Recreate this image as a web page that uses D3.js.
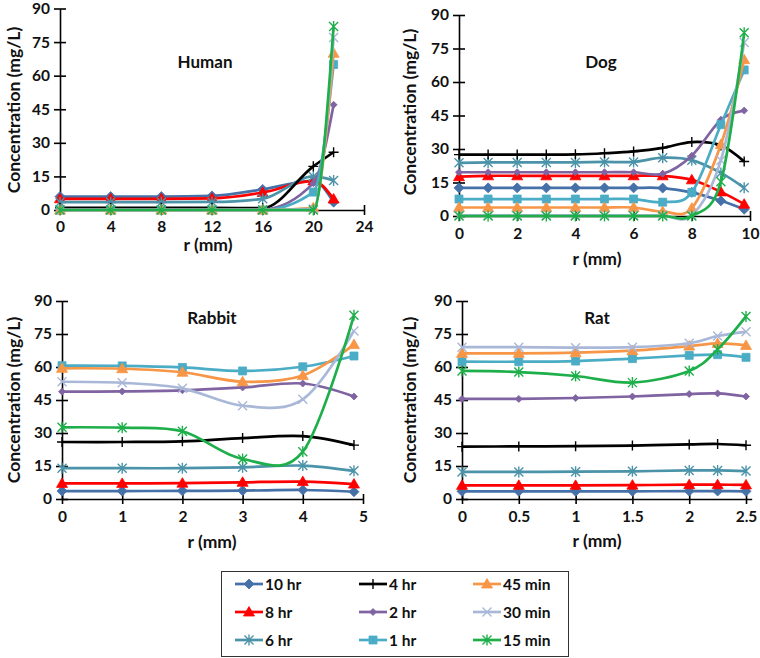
<!DOCTYPE html>
<html>
<head>
<meta charset="utf-8">
<script src="https://cdn.jsdelivr.net/npm/d3@7"></script>
<style>
  html, body { margin: 0; padding: 0; background: #ffffff; }
  svg text { font-family: Lato, "Open Sans", "DejaVu Sans", sans-serif; font-weight: bold; fill: #111; }
</style>
</head>
<body>
<svg id="chart" width="760" height="658"></svg>
<script>
// ---------- DATA ----------
const seriesNames = ["10 hr", "8 hr", "6 hr", "4 hr", "2 hr", "1 hr", "45 min", "30 min", "15 min"];
const seriesColors = ["#4571A8", "#FF0000", "#4B93A9", "#000000", "#8064A2", "#4BACC6", "#F79646", "#AAB8D8", "#1EAF4A"];
const seriesMarkers = ["diamond", "triangle", "star", "plus", "smallDiamond", "square", "triangle", "x", "star"];

const yTicks = [0, 15, 30, 45, 60, 75, 90];

// Human
const humanR = [0, 4, 8, 12, 16, 20, 21.6];
const humanTicks = [0, 4, 8, 12, 16, 20, 24];
const humanValues = [
  [6, 6, 6, 6.3, 9.2, 13, 3.5],      // 10 hr
  [5, 5, 5, 5.2, 7.8, 13, 4.9],      // 8 hr
  [3.5, 3.5, 3.5, 3.6, 5, 15, 13.2], // 6 hr
  [1, 1, 1, 1, 0.8, 19.5, 25.8],     // 4 hr
  [0.3, 0.3, 0.3, 0.3, 0.3, 12, 47], // 2 hr
  [0, 0, 0, 0, 0, 8, 65],            // 1 hr
  [0, 0, 0, 0, 0, 1, 70],            // 45 min
  [0, 0, 0, 0, 0, 0.5, 77],          // 30 min
  [0, 0, 0, 0, 0, 0, 82]             // 15 min
];

// Dog
const dogR = [0, 1, 2, 3, 4, 5, 6, 7, 8, 9, 9.8];
const dogTicks = [0, 2, 4, 6, 8, 10];
const dogValues = [
  [12.6, 12.6, 12.6, 12.6, 12.6, 12.6, 12.6, 12.5, 10.6, 6.8, 3],
  [17.6, 18, 18, 18, 18, 18, 18, 18, 16.2, 10.8, 5.3],
  [23.8, 24, 24, 24, 24, 24.2, 24.2, 26.1, 25, 19.3, 12.6],
  [27.5, 27.5, 27.5, 27.5, 27.6, 28.1, 28.9, 30.5, 33.1, 31.6, 24.4],
  [19.6, 19.6, 19.6, 19.6, 19.6, 19.6, 19.6, 18.9, 27, 43.1, 47.2],
  [7.6, 7.6, 7.6, 7.6, 7.6, 7.6, 7.6, 6.2, 10.6, 40.9, 65.4],
  [3.8, 3.8, 3.8, 3.8, 3.8, 3.8, 3.8, 2, 3.5, 32, 70],
  [0.3, 0.3, 0.3, 0.3, 0.3, 0.3, 0.3, 0.3, 0.3, 25, 77.7],
  [0, 0, 0, 0, 0, 0, 0, 0, 0, 15.3, 82]
];

// Rabbit
const rabbitR = [0, 1, 2, 3, 4, 4.85];
const rabbitTicks = [0, 1, 2, 3, 4, 5];
const rabbitValues = [
  [3.6, 3.6, 3.7, 3.8, 4.1, 3.3],
  [7.1, 7.1, 7.2, 7.6, 7.9, 6.8],
  [14, 14, 14, 14.4, 15.2, 12.8],
  [25.9, 25.9, 26.2, 27.7, 28.6, 24.5],
  [48.8, 48.9, 49.4, 50.7, 52.5, 46.6],
  [60.6, 60.5, 59.8, 58.2, 60.1, 65],
  [59.4, 59.2, 57.6, 53.3, 56.1, 70.2],
  [53.3, 52.8, 50.3, 42.4, 45.3, 76.4],
  [32.6, 32.4, 30.8, 18.2, 21.5, 83.5]
];

// Rat
const ratR = [0, 0.5, 1, 1.5, 2, 2.25, 2.5];
const ratTicks = [0, 0.5, 1, 1.5, 2, 2.5];
const ratValues = [
  [3.5, 3.5, 3.5, 3.5, 3.6, 3.6, 3.5],
  [6.2, 6.2, 6.2, 6.3, 6.5, 6.5, 6.4],
  [12.3, 12.3, 12.4, 12.6, 13, 13, 12.7],
  [23.8, 23.9, 24, 24.3, 24.8, 25, 24.4],
  [45.5, 45.5, 45.9, 46.6, 47.7, 48, 46.6],
  [62.4, 62.4, 62.7, 63.8, 65.3, 65.6, 64.4],
  [66.2, 66.2, 66.5, 67.4, 69.5, 70.7, 69.8],
  [69, 69, 68.8, 69, 70.8, 74.1, 76],
  [58.2, 57.7, 55.9, 52.9, 58.2, 68, 83]
];

// ---------- LAYOUT ----------
const panels = [
  { title: "Human", r: humanR, values: humanValues, ticks: humanTicks, xdom: [0, 24], monotone: true,
    xr: [60, 364], yr: [210, 8.5], titleXY: [205, 68], xlabX: 208, xlabY: 251, ylabXY: [20, 110], tickDy: 24 },
  { title: "Dog", r: dogR, values: dogValues, ticks: dogTicks, xdom: [0, 10],
    xr: [459, 750], yr: [216, 15], titleXY: [601, 68], xlabX: 597, xlabY: 265, ylabXY: [416, 112], tickDy: 25 },
  { title: "Rabbit", r: rabbitR, values: rabbitValues, ticks: rabbitTicks, xdom: [0, 5],
    xr: [62, 363], yr: [499, 301], titleXY: [212, 324], xlabX: 212, xlabY: 548, ylabXY: [20, 400], tickDy: 25 },
  { title: "Rat", r: ratR, values: ratValues, ticks: ratTicks, xdom: [0, 2.55],
    xr: [462, 751.7], yr: [499, 301], titleXY: [597, 324], xlabX: 597, xlabY: 547, ylabXY: [416, 400], tickDy: 25 }
];

const svg = d3.select("#chart");

function markerPath(type) {
  switch (type) {
    case "diamond": return "M0,-5L5,0L0,5L-5,0Z";
    case "smallDiamond": return "M0,-3.5L3.5,0L0,3.5L-3.5,0Z";
    case "triangle": return "M0,-5.5L5.5,4L-5.5,4Z";
    case "square": return "M-4,-4H4V4H-4Z";
    case "plus": return "M-5,0H5M0,-5V5";
    case "x": return "M-4.5,-4.5L4.5,4.5M-4.5,4.5L4.5,-4.5";
    case "star": return "M-4.5,-4.5L4.5,4.5M-4.5,4.5L4.5,-4.5M0,-5.5V5.5";
  }
}
function isFilled(type) {
  return ["diamond", "smallDiamond", "triangle", "square"].includes(type);
}
function drawMarker(g, type, color, x, y) {
  const p = g.append("path")
    .attr("d", markerPath(type))
    .attr("transform", `translate(${x},${y})`);
  if (isFilled(type)) {
    p.attr("fill", color).attr("stroke", color).attr("stroke-width", 0.8);
  } else {
    p.attr("fill", "none").attr("stroke", color).attr("stroke-width", 1.4);
  }
}

const TICK_FS = 15.5, TITLE_FS = 17.5, PANEL_FS = 17;

panels.forEach(P => {
  const x = d3.scaleLinear().domain(P.xdom).range(P.xr);
  const y = d3.scaleLinear().domain([0, 90]).range(P.yr);
  const g = svg.append("g");

  // Y axis
  const yAxis = d3.axisLeft(y).tickValues(yTicks).tickSize(0).tickPadding(10);
  const ya = g.append("g").attr("transform", `translate(${P.xr[0]},0)`).call(yAxis);
  ya.select(".domain").attr("stroke", "#000").attr("stroke-width", 1.6);
  ya.selectAll(".tick text").attr("font-size", TICK_FS).attr("font-family", "Lato, sans-serif").attr("font-weight", "bold").attr("fill", "#111");
  ya.selectAll(".tick").append("line").attr("x1", -6).attr("x2", 6).attr("stroke", "#000").attr("stroke-width", 1.6);

  // X axis
  const xAxis = d3.axisBottom(x).tickValues(P.ticks).tickSize(0).tickPadding(P.tickDy - 13)
    .tickFormat(d => d3.format("~g")(d));
  const xa = g.append("g").attr("transform", `translate(0,${P.yr[0]})`).call(xAxis);
  xa.select(".domain").attr("stroke", "#000").attr("stroke-width", 1.6);
  xa.selectAll(".tick text").attr("font-size", TICK_FS).attr("font-family", "Lato, sans-serif").attr("font-weight", "bold").attr("fill", "#111");
  xa.selectAll(".tick").append("line").attr("y1", -5).attr("y2", 5).attr("stroke", "#000").attr("stroke-width", 1.6);

  // Axis titles
  g.append("text").attr("x", P.xlabX).attr("y", P.xlabY)
    .attr("text-anchor", "middle").attr("font-size", TITLE_FS).text("r (mm)");
  g.append("text").attr("transform", `translate(${P.ylabXY[0]},${P.ylabXY[1]}) rotate(-90)`)
    .attr("text-anchor", "middle").attr("font-size", TITLE_FS).text("Concentration (mg/L)");
  g.append("text").attr("x", P.titleXY[0]).attr("y", P.titleXY[1])
    .attr("text-anchor", "middle").attr("font-size", PANEL_FS).text(P.title);

  // Series
  const curve = P.monotone ? d3.curveMonotoneX : d3.curveCardinal.tension(0);
  const line = d3.line().x(d => x(d[0])).y(d => y(d[1])).curve(curve);
  P.values.forEach((vals, i) => {
    const pts = P.r.map((r, j) => [r, vals[j]]);
    const sg = g.append("g");
    sg.append("path").attr("d", line(pts)).attr("fill", "none")
      .attr("stroke", seriesColors[i]).attr("stroke-width", 2.7).attr("stroke-linejoin", "round");
    pts.forEach(p => drawMarker(sg, seriesMarkers[i], seriesColors[i], x(p[0]), y(p[1])));
  });
});

// ---------- LEGEND ----------
const lg = svg.append("g");
lg.append("rect").attr("x", 221.5).attr("y", 571.5).attr("width", 347).attr("height", 85)
  .attr("fill", "#fff").attr("stroke", "#333").attr("stroke-width", 1);
const colX = [235, 359, 473];
const rowY = [584, 612, 640];
seriesNames.forEach((name, i) => {
  const c = Math.floor(i / 3), rr = i % 3;
  const x0 = colX[c], yy = rowY[rr];
  lg.append("line").attr("x1", x0).attr("x2", x0 + 28).attr("y1", yy).attr("y2", yy)
    .attr("stroke", seriesColors[i]).attr("stroke-width", 2.7);
  drawMarker(lg, seriesMarkers[i], seriesColors[i], x0 + 14, yy);
  lg.append("text").attr("x", x0 + 30).attr("y", yy + 5.5).attr("font-size", 15.5).text(name);
});
</script>
</body>
</html>
